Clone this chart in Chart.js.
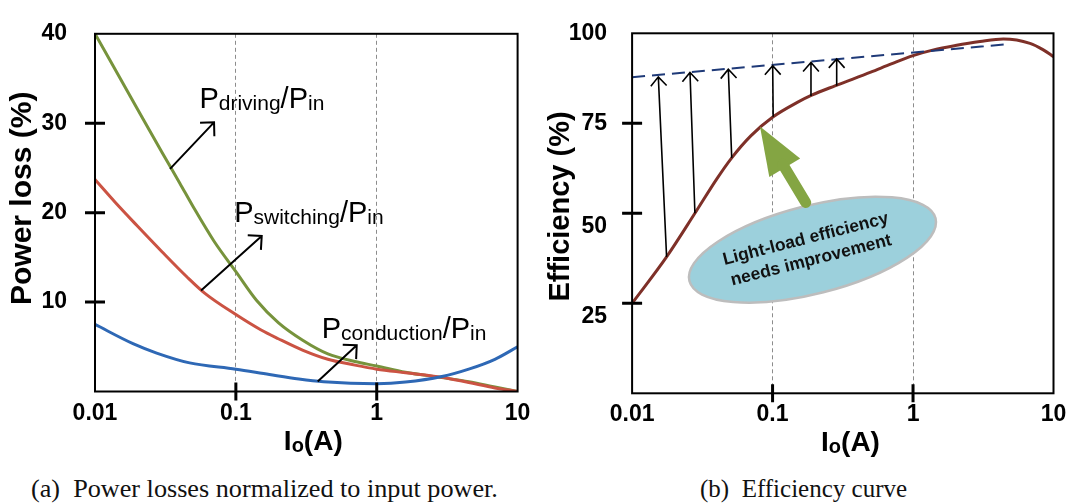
<!DOCTYPE html>
<html>
<head>
<meta charset="utf-8">
<script src="https://cdn.jsdelivr.net/npm/chart.js@4.4.0/dist/chart.umd.min.js"></script>
<style>
  body { margin: 0; background: #fff; width: 1075px; height: 504px; position: relative; overflow: hidden; }
  canvas { position: absolute; top: 0; }
  #lossChart { left: 0; }
  #effChart { left: 540px; }
  .caption { position: absolute; top: 476px; font-family: "Liberation Serif", "Times New Roman", serif; line-height: 26px; color: #111; white-space: pre; }
</style>
</head>
<body>
<canvas id="lossChart" width="540" height="470"></canvas>
<canvas id="effChart" width="535" height="470"></canvas>
<div class="caption" style="left:31px; font-size:26.2px">(a)  Power losses normalized to input power.</div>
<div class="caption" style="left:700px; font-size:25px">(b)  Efficiency curve</div>
<script>
// x axis (both panels): output current, log scale
const ioTicks = [0.01, 0.1, 1, 10];
const ioLabels = ['0.01', '0.1', '1', '10'];
const ioGrid = [0.1, 1];

// (a) losses in % of input power
const drivingIo = [0.01, 0.02, 0.03, 0.04, 0.05, 0.07, 0.1, 0.14, 0.2, 0.3, 0.45, 0.7, 1, 1.6, 2.9, 4.5, 6.9, 10];
const drivingLoss = [40, 31.6, 26.7, 23.3, 20.6, 16.8, 13.4, 10.2, 7.7, 5.7, 4.2, 3.35, 2.85, 2.15, 1.55, 1.1, 0.5, 0];
const switchingIo = [0.01, 0.014, 0.02, 0.03, 0.045, 0.06, 0.1, 0.15, 0.2, 0.3, 0.45, 0.7, 1, 1.6, 2.9, 4.5, 6.9, 10];
const switchingLoss = [23.7, 21.1, 18.5, 15.6, 12.8, 11.0, 8.6, 6.9, 5.9, 4.6, 3.6, 2.95, 2.5, 2.1, 1.6, 1.0, 0.4, 0];
const conductionIo = [0.01, 0.0186, 0.0274, 0.047, 0.1, 0.173, 0.28, 0.42, 1, 1.6, 2.9, 4.5, 6.9, 10];
const conductionLoss = [7.5, 5.35, 4.3, 3.2, 2.5, 1.9, 1.4, 1.1, 0.88, 1.05, 1.67, 2.5, 3.6, 5.0];
const lossTicks = [10, 20, 30, 40];

// (b) efficiency
const effIo = [0.01, 0.0176, 0.028, 0.04, 0.0512, 0.07, 0.101, 0.15, 0.19, 0.278, 0.5, 0.7, 1, 1.4, 2, 3, 4.4, 6.8, 8.46, 10];
const effValues = [25, 37.9, 50.0, 59.5, 65.4, 71.5, 76.8, 80.8, 82.8, 85.4, 89.2, 91.5, 93.8, 95.4, 96.6, 97.7, 98.4, 97.2, 95.4, 93.5];
const targetIo = [0.01, 4.49];
const targetValues = [87.8, 96.9];
const effTicks = [25, 50, 75, 100];

// annotations, in data units
const lossNotes = [
  { name: 'driving', at: [0.0551, 31.7], from: [0.0341, 24.9], to: [0.070, 30.1] },
  { name: 'switching', at: [0.0973, 18.9], from: [0.0566, 11.3], to: [0.1526, 17.4] },
  { name: 'conduction', at: [0.407, 6.0], from: [0.381, 1.13], to: [0.721, 5.18] }
];
const liftFromIo = [0.0176, 0.028, 0.0512, 0.101, 0.1877, 0.2861];
const liftFromEff = [37.9, 50.0, 65.4, 76.8, 82.6, 85.4];
const liftToIo = [0.01537, 0.02583, 0.0484, 0.1002, 0.1877, 0.2861];
const liftToEff = [87.9, 89.1, 90.0, 91.0, 91.9, 92.9];
const bubbleAt = [0.1924, 39.9];
const bubbleText = ['Light-load efficiency', 'needs improvement'];
const pointerFrom = [0.1796, 51.8];
const pointerTo = [0.0814, 74.1];

const SANS = '"Liberation Sans", Arial, sans-serif';

function pts(xs, ys) {
  return xs.map((x, i) => ({ x: x, y: ys[i] }));
}

function openArrow(ctx, x1, y1, x2, y2, head, spread, width) {
  const a = Math.atan2(y2 - y1, x2 - x1);
  ctx.save();
  ctx.strokeStyle = '#000';
  ctx.lineWidth = width;
  ctx.beginPath();
  ctx.moveTo(x1, y1);
  ctx.lineTo(x2, y2);
  ctx.moveTo(x2 - head * Math.cos(a - spread), y2 - head * Math.sin(a - spread));
  ctx.lineTo(x2, y2);
  ctx.lineTo(x2 - head * Math.cos(a + spread), y2 - head * Math.sin(a + spread));
  ctx.stroke();
  ctx.restore();
}

// text runs like [['P', false], ['driving', true]] ; returns total width
function runs(ctx, parts, big, small, weight, x, y, draw) {
  let cx = x;
  parts.forEach(([t, sub]) => {
    ctx.font = weight + ' ' + (sub ? small : big) + 'px ' + SANS;
    if (draw) ctx.fillText(t, cx, sub ? y + 2 : y);
    cx += ctx.measureText(t).width;
  });
  return cx - x;
}

function xTitle(ctx, cx, y) {
  const parts = [['I', false], ['o', true], ['(A)', false]];
  ctx.textAlign = 'left';
  ctx.textBaseline = 'alphabetic';
  const w = runs(ctx, parts, 28, 20, 'bold', 0, 0, false);
  runs(ctx, parts, 28, 20, 'bold', cx - w / 2, y, true);
}

function yTitle(ctx, text, size, x, y) {
  ctx.save();
  ctx.translate(x, y);
  ctx.rotate(-Math.PI / 2);
  ctx.font = 'bold ' + size + 'px ' + SANS;
  ctx.textAlign = 'center';
  ctx.textBaseline = 'middle';
  ctx.fillText(text, 0, 0);
  ctx.restore();
}

function makeFrame(yMarks, drawExtra) {
  return {
    id: 'frame',
    afterDatasetsDraw(chart) {
      const { ctx, chartArea: a, scales } = chart;
      ctx.save();
      ctx.fillStyle = '#000';
      drawExtra(ctx, scales.x, scales.y, a);
      ctx.strokeStyle = '#000';
      ctx.lineWidth = 2;
      ctx.strokeRect(a.left, a.top, a.right - a.left, a.bottom - a.top);
      ctx.lineWidth = 3;
      ctx.beginPath();
      yMarks.forEach(v => {
        const py = scales.y.getPixelForValue(v);
        ctx.moveTo(a.left - 10, py);
        ctx.lineTo(a.left + 10, py);
      });
      ioGrid.forEach(v => {
        const px = scales.x.getPixelForValue(v);
        ctx.moveTo(px, a.bottom - 9);
        ctx.lineTo(px, a.bottom + 9);
      });
      ctx.stroke();
      ctx.restore();
    }
  };
}

function xScale(height) {
  return {
    type: 'logarithmic',
    min: 0.01,
    max: 10,
    afterBuildTicks: s => { s.ticks = ioTicks.map(v => ({ value: v })); },
    afterFit: s => { s.height = height; },
    grid: {
      drawTicks: false,
      color: c => (c.tick && ioGrid.includes(c.tick.value)) ? '#8c8c8c' : 'rgba(0,0,0,0)',
      lineWidth: 1
    },
    border: { display: false, dash: [4, 3] },
    ticks: {
      autoSkip: false,
      maxRotation: 0,
      padding: 8,
      color: '#000',
      font: { family: SANS, size: 23, weight: 'bold' },
      callback: v => { const i = ioTicks.indexOf(v); return i >= 0 ? ioLabels[i] : ''; }
    }
  };
}

function yScale(max, step, labels, width, pad, label) {
  return {
    min: 0,
    max: max,
    afterFit: s => { s.width = width; },
    grid: { display: false },
    border: { display: false },
    ticks: {
      stepSize: step,
      padding: pad,
      color: '#000',
      font: { family: SANS, size: 23, weight: 'bold' },
      callback: v => labels.includes(v) ? label(v) : ''
    }
  };
}

function line(data, color, width, dash) {
  return {
    data: data,
    borderColor: color,
    borderWidth: width,
    borderDash: dash || [],
    pointRadius: 0,
    fill: false,
    cubicInterpolationMode: 'monotone'
  };
}

const baseOptions = {
  responsive: false,
  animation: false,
  plugins: { legend: { display: false }, tooltip: { enabled: false } }
};

new Chart(document.getElementById('lossChart'), {
  type: 'line',
  data: {
    datasets: [
      line(pts(conductionIo, conductionLoss), '#2E68B5', 3),
      line(pts(switchingIo, switchingLoss), '#CB5343', 3),
      line(pts(drivingIo, drivingLoss), '#77933C', 3)
    ]
  },
  options: Object.assign({}, baseOptions, {
    layout: { padding: { top: 19.5, right: 22.4, left: 0, bottom: 0 } },
    scales: { x: xScale(78.5), y: yScale(40, 10, lossTicks, 95, 20, v => String(v)) }
  }),
  plugins: [makeFrame([10, 20, 30], (ctx, x, y) => {
    lossNotes.forEach(n => {
      openArrow(ctx, x.getPixelForValue(n.from[0]), y.getPixelForValue(n.from[1]),
        x.getPixelForValue(n.to[0]), y.getPixelForValue(n.to[1]), 14, 0.78, 2);
      ctx.textAlign = 'left';
      ctx.textBaseline = 'alphabetic';
      runs(ctx, [['P', false], [n.name, true], ['/P', false], ['in', true]], 29, 21, 'normal',
        x.getPixelForValue(n.at[0]), y.getPixelForValue(n.at[1]), true);
    });
    yTitle(ctx, 'Power loss (%)', 30, 22.5, 198.3);
    xTitle(ctx, 313.3, 450);
  })]
});

new Chart(document.getElementById('effChart'), {
  type: 'line',
  data: {
    datasets: [
      line(pts(targetIo, targetValues), '#1F3A78', 2, [13, 7]),
      line(pts(effIo, effValues), '#7E3028', 3)
    ]
  },
  options: Object.assign({}, baseOptions, {
    layout: { padding: { top: 33.3, right: 21.5, left: 0, bottom: 0 } },
    // in the source figure the two lower labels sit a little below their ticks
    scales: { x: xScale(76.7), y: yScale(100, 25, effTicks, 92.1, 17, v => v < 75 ? ['', String(v)] : String(v)) }
  }),
  plugins: [makeFrame([25, 50, 75], (ctx, x, y) => {
    liftFromIo.forEach((v, i) => {
      openArrow(ctx, x.getPixelForValue(v), y.getPixelForValue(liftFromEff[i]),
        x.getPixelForValue(liftToIo[i]), y.getPixelForValue(liftToEff[i]), 12, 0.72, 1.6);
    });
    // bubble
    const bx = x.getPixelForValue(bubbleAt[0]);
    const by = y.getPixelForValue(bubbleAt[1]);
    const rot = -14.3 * Math.PI / 180;
    ctx.save();
    ctx.beginPath();
    ctx.ellipse(bx, by, 127, 44, rot, 0, Math.PI * 2);
    ctx.fillStyle = '#9CD0DC';
    ctx.fill();
    ctx.strokeStyle = '#BDBDBD';
    ctx.lineWidth = 2.5;
    ctx.stroke();
    ctx.translate(bx, by);
    ctx.rotate(rot);
    ctx.fillStyle = '#111';
    ctx.font = 'bold 17.5px ' + SANS;
    ctx.textAlign = 'center';
    ctx.textBaseline = 'alphabetic';
    ctx.fillText(bubbleText[0], -4, -7);
    ctx.fillText(bubbleText[1], -4, 15);
    ctx.restore();
    // green pointer
    const tx = x.getPixelForValue(pointerTo[0]), ty = y.getPixelForValue(pointerTo[1]);
    const fx = x.getPixelForValue(pointerFrom[0]), fy = y.getPixelForValue(pointerFrom[1]);
    const len = Math.hypot(fx - tx, fy - ty);
    ctx.save();
    ctx.translate(tx, ty);
    ctx.rotate(Math.atan2(fy - ty, fx - tx));
    ctx.fillStyle = '#84A543';
    ctx.strokeStyle = '#84A543';
    ctx.beginPath();
    ctx.moveTo(0, 0);
    ctx.lineTo(48, -18);
    ctx.lineTo(48, 18);
    ctx.closePath();
    ctx.fill();
    ctx.lineWidth = 11;
    ctx.lineCap = 'round';
    ctx.beginPath();
    ctx.moveTo(44, 0);
    ctx.lineTo(len - 5, 0);
    ctx.stroke();
    ctx.restore();
    ctx.fillStyle = '#000';
    yTitle(ctx, 'Efficiency (%)', 29, 20.5, 206.5);
    xTitle(ctx, 310.5, 450.5);
  })]
});
</script>
</body>
</html>
